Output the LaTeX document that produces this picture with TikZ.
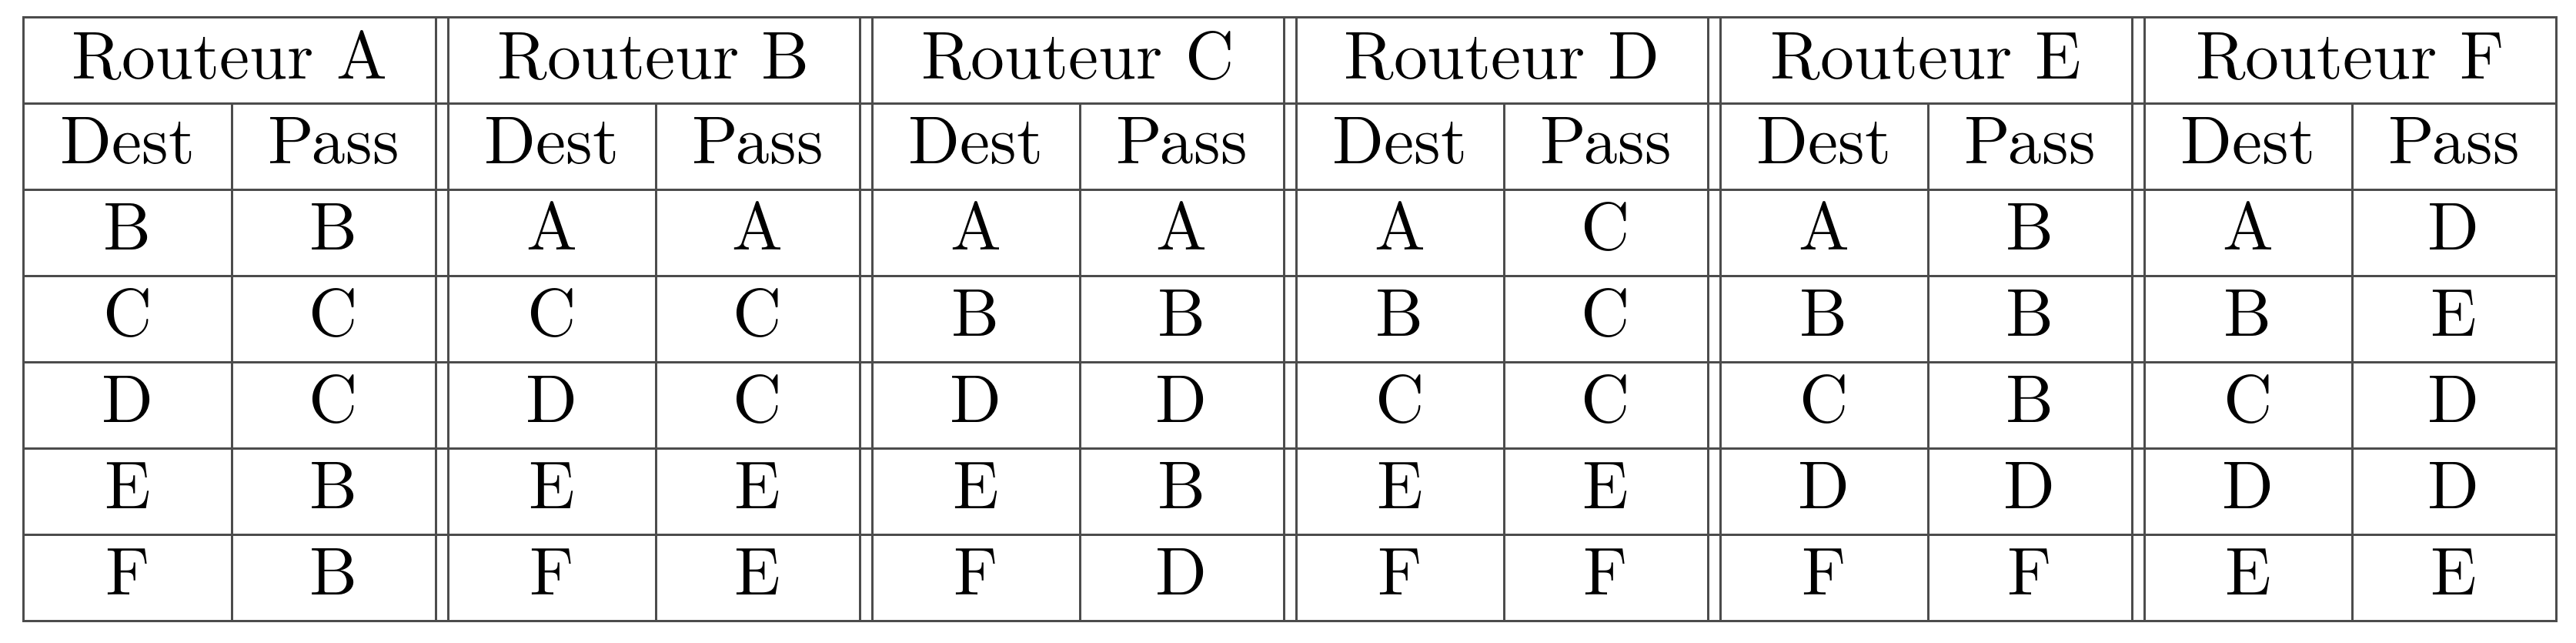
\documentclass[tikz,border=0pt]{standalone}
\usetikzlibrary{positioning}
\begin{document}
\begin{tikzpicture}[x=1cm,y=1cm]
    \useasboundingbox (0,0) rectangle (33.47,8.35);

    % one block per router: number/name/{dest/pass,...}
    % lines of the table (grey like the tabular rules)
    \begin{scope}[draw=black!70, line width=0.03cm, line cap=rect]
    \foreach \k in {0,...,7}
        \draw (0.31,8.12-1.12*\k) -- (33.21,8.12-1.12*\k);
    \foreach \g in {0,...,5} {
        \draw (0.31+5.51*\g,8.12) -- (0.31+5.51*\g,0.28);
        \draw (5.66+5.51*\g,8.12) -- (5.66+5.51*\g,0.28);
        \draw (3.01+5.51*\g,7.00) -- (3.01+5.51*\g,0.28);
    }
    \end{scope}

    % Add or remove routes here, dest/pass for each row
    \begin{scope}[every node/.style={anchor=base, inner sep=0pt, font=\normalsize, scale=2.5}]
    \foreach \g/\rt/\rows in {0/A/{B/B,C/C,D/C,E/B,F/B},
                              1/B/{A/A,C/C,D/C,E/E,F/E},
                              2/C/{A/A,B/B,D/D,E/B,F/D},
                              3/D/{A/C,B/C,C/C,E/E,F/F},
                              4/E/{A/B,B/B,C/B,D/D,F/F},
                              5/F/{A/D,B/E,C/D,D/D,E/E}} {
        \node (h\rt) at (2.985+5.51*\g,7.32) {Routeur \rt};
        \node (dest\rt) at (1.66+5.51*\g,6.22) {Dest};
        \node (pass\rt) at (4.335+5.51*\g,6.22) {Pass};
        \foreach \d/\p [count=\r] in \rows {
            \node (d\rt\r) at (1.66+5.51*\g,6.22-1.12*\r) {\d};
            \node (p\rt\r) at (4.335+5.51*\g,6.22-1.12*\r) {\p};
        }
    }
    \end{scope}

\end{tikzpicture}
\end{document}
